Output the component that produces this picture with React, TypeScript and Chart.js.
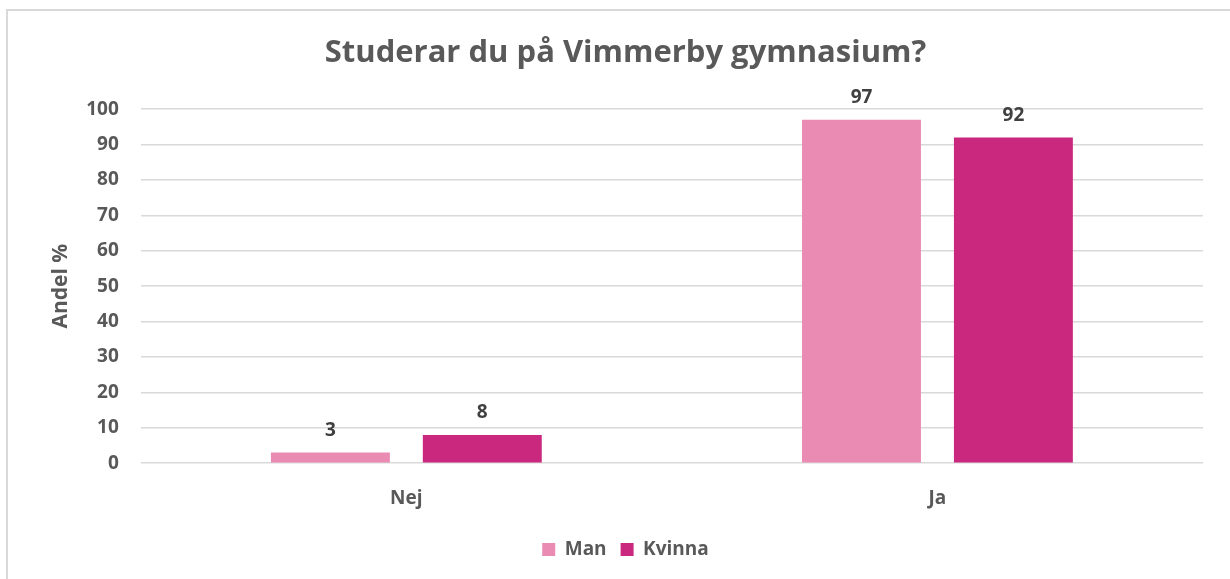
import React, { useEffect, useRef } from "react";
import { Chart, registerables } from "chart.js";

Chart.register(...registerables);

const categories = ["Nej", "Ja"];
const manValues = [3, 97];
const kvinnaValues = [8, 92];
const seriesNames = ["Man", "Kvinna"];
const titleText = "Studerar du på Vimmerby gymnasium?";
const yAxisTitle = "Andel %";

const FONT = "'Open Sans', sans-serif";

const valueLabels = {
  id: "valueLabels",
  afterDatasetsDraw(chart: any) {
    const ctx = chart.ctx;
    ctx.save();
    ctx.font = `bold 19px ${FONT}`;
    ctx.fillStyle = "#404040";
    ctx.textAlign = "center";
    ctx.textBaseline = "alphabetic";
    chart.data.datasets.forEach((ds: any, di: number) => {
      const meta = chart.getDatasetMeta(di);
      meta.data.forEach((bar: any, i: number) => {
        ctx.fillText(String(ds.data[i]), bar.x, bar.y - 17);
      });
    });
    ctx.restore();
  },
};

export default function App() {
  const ref = useRef<HTMLCanvasElement>(null);
  useEffect(() => {
    document.body.style.margin = "0";
    document.body.style.overflow = "hidden";
    const chart = new Chart(ref.current!, {
      type: "bar",
      data: {
        labels: categories,
        datasets: [
          {
            label: seriesNames[0],
            data: manValues,
            backgroundColor: "#EA8BB4",
            categoryPercentage: 0.572,
            barPercentage: 0.783,
          },
          {
            label: seriesNames[1],
            data: kvinnaValues,
            backgroundColor: "#CA287E",
            categoryPercentage: 0.572,
            barPercentage: 0.783,
          },
        ],
      },
      plugins: [valueLabels],
      options: {
        animation: false,
        responsive: false,
        maintainAspectRatio: false,
        layout: { padding: { top: 35, left: 48, right: 27, bottom: 10 } },
        plugins: {
          title: {
            display: true,
            text: titleText,
            color: "#595959",
            font: { family: FONT, size: 31, weight: "bold" },
            padding: { top: 0, bottom: 37 },
          },
          legend: {
            position: "bottom",
            labels: {
              color: "#595959",
              font: { family: FONT, size: 19, weight: "bold" },
              boxWidth: 13,
              boxHeight: 13,
              padding: 14,
            },
          },
          tooltip: { enabled: false },
        },
        scales: {
          x: {
            grid: { display: false },
            border: { display: false },
            ticks: {
              color: "#595959",
              font: { family: FONT, size: 19, weight: "bold" },
              padding: 16,
            },
          },
          y: {
            min: 0,
            max: 100,
            ticks: {
              stepSize: 10,
              color: "#595959",
              font: { family: FONT, size: 19, weight: "bold" },
              padding: 22,
            },
            grid: { color: "#d9d9d9", lineWidth: 1.5, drawTicks: false },
            border: { display: false },
            title: {
              display: true,
              text: yAxisTitle,
              color: "#595959",
              font: { family: FONT, size: 21, weight: "bold" },
              padding: { top: 0, bottom: -9 },
            },
          },
        },
      },
    });
    return () => chart.destroy();
  }, []);
  return (
    <div style={{ position: "relative", width: 1230, height: 579, overflow: "hidden" }}>
      <div
        style={{
          position: "absolute",
          left: 6,
          top: 9,
          width: 1400,
          height: 800,
          borderLeft: "2px solid #d9d9d9",
          borderTop: "2px solid #d9d9d9",
        }}
      />
      <canvas ref={ref} width={1230} height={579} style={{ position: "absolute", left: 0, top: 0 }} />
    </div>
  );
}
